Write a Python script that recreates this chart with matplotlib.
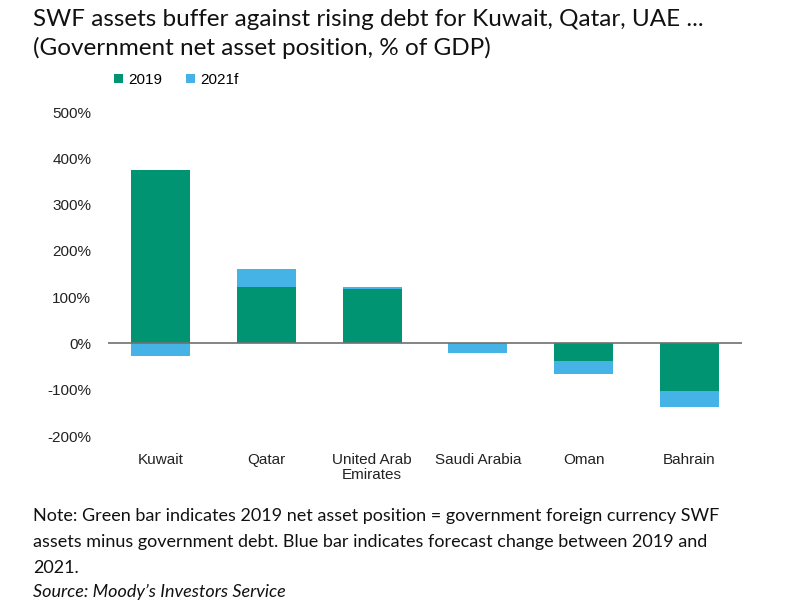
import matplotlib
matplotlib.use("Agg")
import matplotlib.pyplot as plt
import numpy as np

categories = ["Kuwait", "Qatar", "United Arab\nEmirates", "Saudi Arabia", "Oman", "Bahrain"]
val_2019 = [374, 122, 118, 0, -38, -103]
change_2021f = [-28, 39, 4, -20, -29, -34]
yticks = [-200, -100, 0, 100, 200, 300, 400, 500]

green = "#009473"
blue = "#45B3E6"

fig = plt.figure(figsize=(8, 6), dpi=100)
ax = fig.add_axes([0.135, 0.2733, 0.7925, 0.54])

x = np.arange(len(categories))
v19 = np.array(val_2019, dtype=float)
ch = np.array(change_2021f, dtype=float)
# stack: positives on positives, negatives on negatives
bottom_ch = np.where(np.sign(ch) == np.sign(v19), v19, 0.0)
ax.bar(x, v19, width=0.56, color=green, label="2019", zorder=2)
ax.bar(x, ch, width=0.56, bottom=bottom_ch, color=blue, label="2021f", zorder=2)

ax.set_xlim(-0.5, len(categories) - 0.5)
ax.set_ylim(-200, 500)
ax.set_yticks(yticks)
ax.set_yticklabels([f"{t}%" for t in yticks], fontsize=11, family="Liberation Sans", color="#222222")
ax.set_xticks(x)
ax.set_xticklabels(categories, fontsize=11, family="Liberation Sans", color="#222222", linespacing=1.1)
ax.tick_params(axis="both", length=0)
ax.tick_params(axis="x", pad=12)
ax.tick_params(axis="y", pad=12)
for s in ax.spines.values():
    s.set_visible(False)
ax.axhline(0, color="#707070", lw=1.2, zorder=3)

leg = ax.legend(loc="upper left", bbox_to_anchor=(0.0, 1.14), ncol=2, frameon=False,
                prop={"family": "Liberation Sans", "size": 11}, handlelength=0.6, handleheight=0.6,
                handletextpad=0.3, columnspacing=1.6, borderaxespad=0)

fig.text(33 / 800, 1 - 26 / 600, "SWF assets buffer against rising debt for Kuwait, Qatar, UAE ...",
         fontsize=17.5, family="Lato", va="baseline", ha="left", color="#111111")
fig.text(33 / 800, 1 - 55 / 600, "(Government net asset position, % of GDP)",
         fontsize=17.5, family="Lato", va="baseline", ha="left", color="#111111")

note_lines = ["Note: Green bar indicates 2019 net asset position = government foreign currency SWF",
              "assets minus government debt. Blue bar indicates forecast change between 2019 and",
              "2021."]
baselines = [521, 547, 573]
for line, b in zip(note_lines, baselines):
    fig.text(33 / 800, 1 - b / 600, line, fontsize=13, family="Lato", va="baseline", ha="left",
             color="#111111")
fig.text(33 / 800, 1 - 597 / 600, "Source: Moody\u2019s Investors Service", fontsize=13, family="Lato",
         style="italic", va="baseline", ha="left", color="#111111")

fig.savefig("out.png", dpi=100)
